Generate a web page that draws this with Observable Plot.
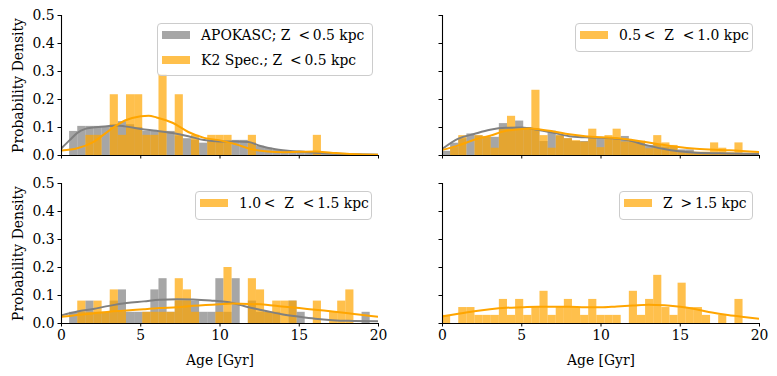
<!DOCTYPE html>
<html><head><meta charset="utf-8">
<script src="https://cdn.jsdelivr.net/npm/d3@7"></script>
<script src="https://cdn.jsdelivr.net/npm/@observablehq/plot@0.6"></script>
<style>
body{margin:0;background:#fff;}
#fig{position:relative;width:777px;height:376px;font-family:"DejaVu Serif",serif;color:#000;}
#fig svg{position:absolute;overflow:visible;}
.legend{position:absolute;background:rgba(255,255,255,0.8);border:1px solid #cccccc;border-radius:4px;box-sizing:border-box;font-size:13.9px;}
.entry{position:absolute;white-space:pre;line-height:14px;}
.sw{position:absolute;width:28px;height:8px;}
</style></head>
<body><div id="fig"></div>
<script>
// ---- data ----
const binWidth = 0.5125; // Gyr, 40 bins starting at 0
const xTicks = [0, 5, 10, 15, 20];
const yTicks = [0, 0.1, 0.2, 0.3, 0.4, 0.5];

// Top-left: Z < 0.5 kpc
const tlGray = [0,0.086,0.104,0.104,0.104,0.104,0.11,0.121,0.11,0.10,0.086,0.086,0.086,0.086,0.07,0.06,0.055,0.044,0.05,0.05,0.05,0.054,0.054,0.045,0.033,0.026,0.018,0.018,0.015,0.015,0.012,0.012,0.01,0.008,0.006,0.006,0.005,0.004,0.004,0.003];
const tlOrange = [0,0,0,0.072,0.072,0,0.217,0.072,0.217,0.217,0.072,0.072,0.289,0,0.217,0,0.072,0,0.072,0.072,0.072,0,0,0.072,0,0,0,0,0,0,0,0.072,0,0,0,0,0,0,0,0];
const tlGrayKdeAge = [0,0.5,1,1.5,2,3,3.5,4,5,6,7,8,9,10,11,11.8,12.5,13.5,15,16,18,20];
const tlGrayKde = [0.026,0.054,0.081,0.095,0.1,0.105,0.107,0.104,0.095,0.088,0.08,0.069,0.055,0.05,0.05,0.048,0.035,0.022,0.014,0.01,0.005,0.003];
const tlOrangeKdeAge = [0,1,2,3,4,5,5.5,6,7,8,9,10,11,12,13,14,15,16,17,18,19,20];
const tlOrangeKde = [0.018,0.026,0.048,0.089,0.125,0.14,0.142,0.136,0.117,0.084,0.063,0.054,0.04,0.022,0.014,0.012,0.013,0.014,0.01,0.006,0.004,0.003];

// Top-right: 0.5 < Z < 1.0 kpc
const trGray = [0.015,0.044,0.06,0.077,0.07,0.065,0.065,0.114,0.1,0.123,0.1,0.095,0.05,0.087,0.07,0.06,0.05,0.05,0.06,0.06,0.06,0.06,0.068,0.05,0.05,0.036,0.04,0.03,0.03,0.02,0.02,0.01,0.01,0.008,0.008,0.006,0.006,0.005,0.005,0.004];
const trOrange = [0,0.028,0.071,0,0.071,0.068,0.026,0.094,0.14,0.094,0.098,0.233,0.071,0.026,0.071,0.06,0.053,0.048,0.094,0.028,0.071,0.094,0.048,0.052,0.052,0.024,0.071,0.045,0.036,0.012,0.012,0.012,0.012,0.045,0.026,0.01,0.045,0.008,0.008,0];
const trGrayKdeAge = [0,1,2,3,4,5,6,7,8,9,10,10.7,11.75,12.8,13.9,14.9,16,18.1,20];
const trGrayKde = [0.024,0.06,0.077,0.092,0.099,0.1,0.092,0.081,0.069,0.065,0.063,0.062,0.054,0.038,0.024,0.015,0.01,0.007,0.005];
const trOrangeKdeAge = [0,1,2,3,4,5,5.5,6,7,8,9,10,10.7,11.75,12.8,13.9,14.9,16,18.1,20];
const trOrangeKde = [0.02,0.036,0.056,0.071,0.088,0.095,0.096,0.094,0.086,0.076,0.069,0.065,0.063,0.057,0.048,0.038,0.03,0.024,0.019,0.012];

// Bottom-left: 1.0 < Z < 1.5 kpc
const blGray = [0,0.04,0.04,0.08,0.04,0.04,0.08,0.12,0.04,0.04,0.04,0.12,0.16,0.04,0.08,0.08,0.08,0.04,0.04,0.16,0.04,0.16,0,0.08,0.04,0.04,0.04,0,0.08,0.04,0,0,0,0,0,0,0,0.04,0,0];
const blOrange = [0,0,0.08,0.04,0.08,0.04,0.12,0.04,0,0,0.04,0.04,0.04,0.04,0.16,0.12,0.04,0,0,0.04,0.2,0,0,0.16,0.12,0.04,0.08,0.08,0.08,0,0,0.08,0,0.04,0.08,0.12,0,0,0,0];
const blGrayKdeAge = [0,1,2,3,4.1,5.2,6.2,7.3,8.3,9.4,10.8,11.8,12.9,13.9,15,16,17.1,18.1,20];
const blGrayKde = [0.029,0.043,0.052,0.063,0.073,0.079,0.085,0.087,0.086,0.082,0.073,0.058,0.045,0.033,0.024,0.017,0.012,0.0095,0.008];
const blOrangeKdeAge = [0,1,2,3,4.1,5.2,6.2,7.3,8.3,10,10.8,11.8,12.9,13.9,15,16,17.1,18.1,20];
const blOrangeKde = [0.024,0.03,0.036,0.042,0.046,0.051,0.055,0.058,0.063,0.069,0.071,0.07,0.067,0.061,0.055,0.049,0.043,0.037,0.024];

// Bottom-right: Z > 1.5 kpc
const brOrange = [0.029,0,0.057,0.057,0.029,0.029,0.029,0.086,0.029,0.086,0.029,0.057,0.115,0.029,0.057,0.086,0.057,0.029,0.086,0.029,0.029,0.029,0,0.115,0.029,0.086,0.172,0.057,0.029,0.144,0.057,0.057,0.029,0,0.029,0,0.086,0,0,0];
const brOrangeKdeAge = [0,1,2,3,4,5,6,7,8,9,10,11,12,13,14,15,16,17,18,19,20];
const brOrangeKde = [0.025,0.035,0.044,0.051,0.056,0.058,0.06,0.06,0.06,0.058,0.058,0.061,0.064,0.067,0.065,0.06,0.051,0.039,0.03,0.023,0.017];

const legendTexts = {
  tl: ["APOKASC; Z \u2005<\u20090.5 kpc", "K2 Spec.; Z \u2005<\u20090.5 kpc"],
  tr: ["0.5\u2009<  Z  <\u20091.0 kpc"],
  bl: ["1.0\u2009<  Z  <\u20091.5 kpc"],
  br: ["Z \u2005>\u20091.5 kpc"]
};

const GRAY = "#808080", ORANGE = "#ffa500";

function hist(vals, color) {
  const idx = d3.range(vals.length).filter(i => vals[i] > 0);
  return Plot.rectY(idx, {x1: i => i * binWidth, x2: i => (i + 1) * binWidth, y: i => vals[i], fill: color, fillOpacity: 0.7, clip: true, inset: 0});
}
function kde(ages, dens, color) {
  const pts = ages.map((a, i) => ({a, d: dens[i]}));
  return Plot.line(pts, {x: "a", y: "d", stroke: color, strokeWidth: 2, curve: "monotone-x", clip: true});
}

function panel({left, top, bottom, xLabels, yLabels, marks}) {
  const height = bottom ? 208 : 170;
  const svg = Plot.plot({
    width: 389, height,
    marginLeft: 61, marginRight: 11, marginTop: 15, marginBottom: height - 155,
    style: {fontFamily: "DejaVu Serif", fontSize: "13.9px", color: "black", background: "transparent", overflow: "visible"},
    x: {domain: [0, 20], ticks: xTicks, tickSize: 3.5, tickPadding: 3.5,
        tickFormat: xLabels ? (d => String(d)) : (() => ""),
        label: xLabels ? "Age [Gyr]" : null, labelAnchor: "center", labelOffset: 41, labelArrow: "none"},
    y: {domain: [0, 0.5], ticks: yTicks, tickSize: 3.5, tickPadding: 3.5,
        tickFormat: yLabels ? d3.format(".1f") : (() => ""),
        label: yLabels ? "Probability Density" : null, labelAnchor: "center", labelOffset: 48, labelArrow: "none"},
    marks: [
      ...marks,
      Plot.ruleY([0], {stroke: "black", strokeWidth: 1.1}),
      Plot.ruleX([0], {stroke: "black", strokeWidth: 1.1})
    ]
  });
  svg.style.left = left + "px";
  svg.style.top = top + "px";
  document.getElementById("fig").appendChild(svg);
}

panel({left: 0, top: 0, bottom: false, xLabels: false, yLabels: true, marks: [
  hist(tlGray, GRAY), hist(tlOrange, ORANGE), kde(tlGrayKdeAge, tlGrayKde, GRAY), kde(tlOrangeKdeAge, tlOrangeKde, ORANGE)]});
panel({left: 381, top: 0, bottom: false, xLabels: false, yLabels: false, marks: [
  hist(trGray, GRAY), hist(trOrange, ORANGE), kde(trGrayKdeAge, trGrayKde, GRAY), kde(trOrangeKdeAge, trOrangeKde, ORANGE)]});
panel({left: 0, top: 168, bottom: true, xLabels: true, yLabels: true, marks: [
  hist(blGray, GRAY), hist(blOrange, ORANGE), kde(blGrayKdeAge, blGrayKde, GRAY), kde(blOrangeKdeAge, blOrangeKde, ORANGE)]});
panel({left: 381, top: 168, bottom: true, xLabels: true, yLabels: false, marks: [
  hist(brOrange, ORANGE), kde(brOrangeKdeAge, brOrangeKde, ORANGE)]});

function legend(box, entries) {
  const div = document.createElement("div");
  div.className = "legend";
  Object.assign(div.style, {left: box[0] + "px", top: box[1] + "px", width: box[2] + "px", height: box[3] + "px"});
  entries.forEach((e, i) => {
    const sw = document.createElement("div");
    sw.className = "sw";
    Object.assign(sw.style, {left: "4px", top: (7 + i * 25) + "px", background: e.color, opacity: 0.7});
    const t = document.createElement("div");
    t.className = "entry";
    t.textContent = e.text;
    Object.assign(t.style, {left: "43px", top: (4 + i * 25) + "px"});
    div.appendChild(sw); div.appendChild(t);
  });
  document.getElementById("fig").appendChild(div);
}
legend([157, 23, 216, 53], [{text: legendTexts.tl[0], color: GRAY}, {text: legendTexts.tl[1], color: ORANGE}]);
legend([575, 23, 178, 29], [{text: legendTexts.tr[0], color: ORANGE}]);
legend([195, 191, 177, 29], [{text: legendTexts.bl[0], color: ORANGE}]);
legend([619, 191, 134, 29], [{text: legendTexts.br[0], color: ORANGE}]);
</script>
</body></html>
